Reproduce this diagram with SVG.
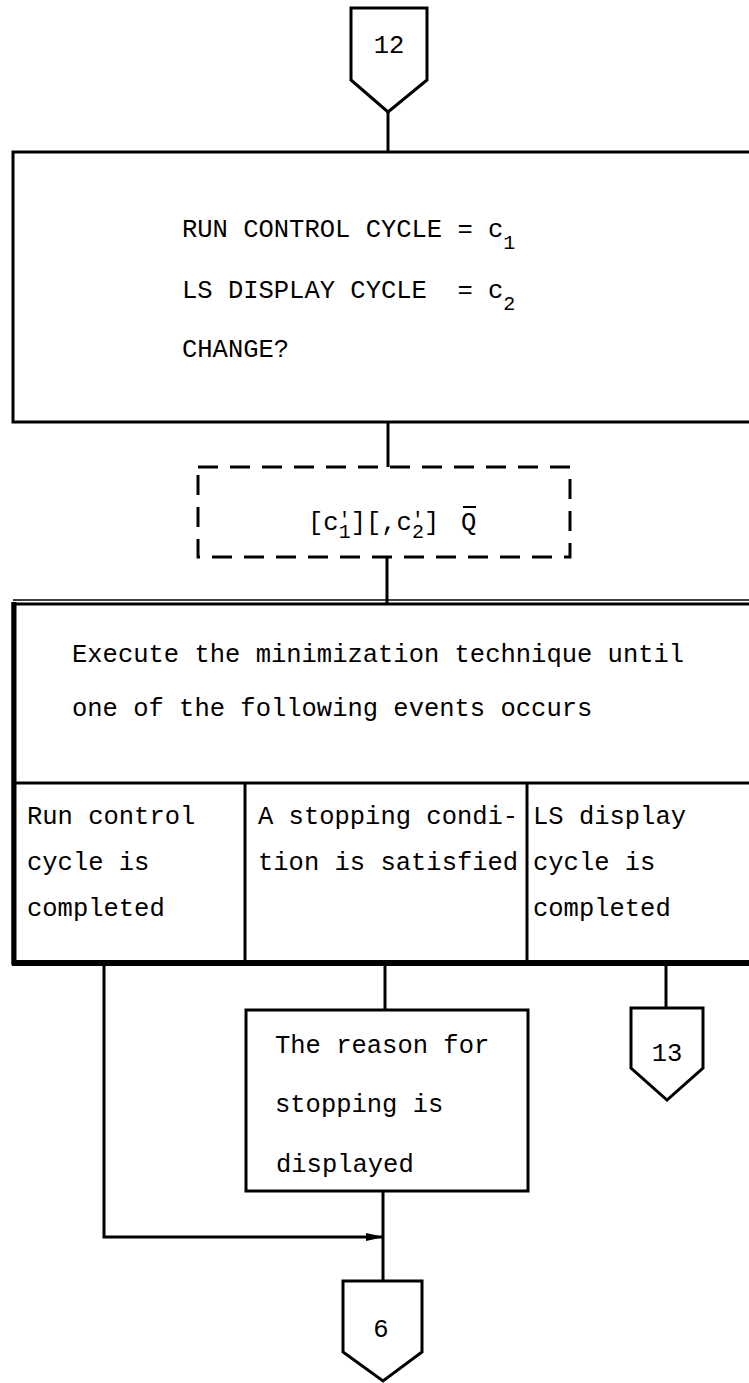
<svg xmlns="http://www.w3.org/2000/svg" width="749" height="1383" viewBox="0 0 749 1383">
<style>
.t{font-family:"Liberation Mono","DejaVu Sans Mono",monospace;font-size:25.5px;fill:#000}
.sub{font-size:20px}
.b{fill:#fff;stroke:#000;stroke-width:3}
.c{fill:none;stroke:#000;stroke-width:3}
.d{fill:none;stroke:#000;stroke-width:3;stroke-dasharray:20 12}
</style>
<defs>
<marker id="ah" markerWidth="18" markerHeight="10" refX="17" refY="5" orient="auto" markerUnits="userSpaceOnUse">
<path d="M0,1 L18,5 L0,9 Z" fill="#000"/>
</marker>
</defs>
<rect width="749" height="1383" fill="#fff"/>
<g id="connectors">
<line class="c" x1="388" y1="112" x2="388" y2="152"/>
<line class="c" x1="388" y1="422" x2="388" y2="467"/>
<line class="c" x1="387" y1="557" x2="387" y2="603"/>
<polyline class="c" points="104,963 104,1237 383,1237" marker-end="url(#ah)"/>
<line class="c" x1="385" y1="963" x2="385" y2="1010"/>
<line class="c" x1="666" y1="963" x2="666" y2="1008"/>
<line class="c" x1="383" y1="1191" x2="383" y2="1281"/>
</g>
<g id="conn12">
<path class="b" d="M351,8 L427,8 L427,80 L388,112 L351,80 Z"/>
<text class="t" x="389" y="53" text-anchor="middle">12</text>
</g>
<g id="box1">
<rect class="b" x="13" y="152" width="760" height="270"/>
<text class="t" x="182" y="237">RUN CONTROL CYCLE = c<tspan class="sub" dy="12">1</tspan></text>
<text class="t" x="182" y="298" xml:space="preserve">LS DISPLAY CYCLE  = c<tspan class="sub" dy="12">2</tspan></text>
<text class="t" x="182" y="357">CHANGE?</text>
</g>
<g id="input">
<rect class="d" x="198" y="467" width="372" height="90"/>
<text class="t" x="308" y="530">[c<tspan class="sub" dy="-4">'</tspan><tspan class="sub" dx="-12" dy="12">1</tspan><tspan dy="-8">][,c</tspan><tspan class="sub" dy="-4">'</tspan><tspan class="sub" dx="-12" dy="12">2</tspan><tspan dy="-8">]</tspan><tspan x="461">Q</tspan></text>
<line x1="463" y1="507" x2="476" y2="507" stroke="#000" stroke-width="2"/>
</g>
<g id="box2">
<rect class="b" x="13" y="604" width="760" height="359"/>
<line x1="13" y1="600" x2="749" y2="600" stroke="#000" stroke-width="1.5"/>
<line x1="14" y1="602" x2="14" y2="965" stroke="#000" stroke-width="5"/>
<line x1="12" y1="963" x2="749" y2="963" stroke="#000" stroke-width="6"/>
<line class="c" x1="13" y1="783" x2="749" y2="783"/>
<line class="c" x1="245" y1="783" x2="245" y2="963"/>
<line class="c" x1="527" y1="783" x2="527" y2="963"/>
<text class="t" x="72" y="662">Execute the minimization technique until</text>
<text class="t" x="72" y="716">one of the following events occurs</text>
<text class="t" x="27" y="824">Run control</text>
<text class="t" x="27" y="870">cycle is</text>
<text class="t" x="27" y="916">completed</text>
<text class="t" x="258" y="824">A stopping condi-</text>
<text class="t" x="258" y="870">tion is satisfied</text>
<text class="t" x="533" y="824">LS display</text>
<text class="t" x="533" y="870">cycle is</text>
<text class="t" x="533" y="916">completed</text>
</g>
<g id="reason">
<rect class="b" x="246" y="1010" width="282" height="181"/>
<text class="t" x="275" y="1053">The reason for</text>
<text class="t" x="275" y="1112">stopping is</text>
<text class="t" x="276" y="1172">displayed</text>
</g>
<g id="conn13">
<path class="b" d="M631,1008 L703,1008 L703,1068 L667,1100 L631,1068 Z"/>
<text class="t" x="667" y="1061" text-anchor="middle">13</text>
</g>
<g id="conn6">
<path class="b" d="M343,1281 L422,1281 L422,1352 L383,1381 L343,1352 Z"/>
<text class="t" x="381" y="1337" text-anchor="middle">6</text>
</g>
</svg>
